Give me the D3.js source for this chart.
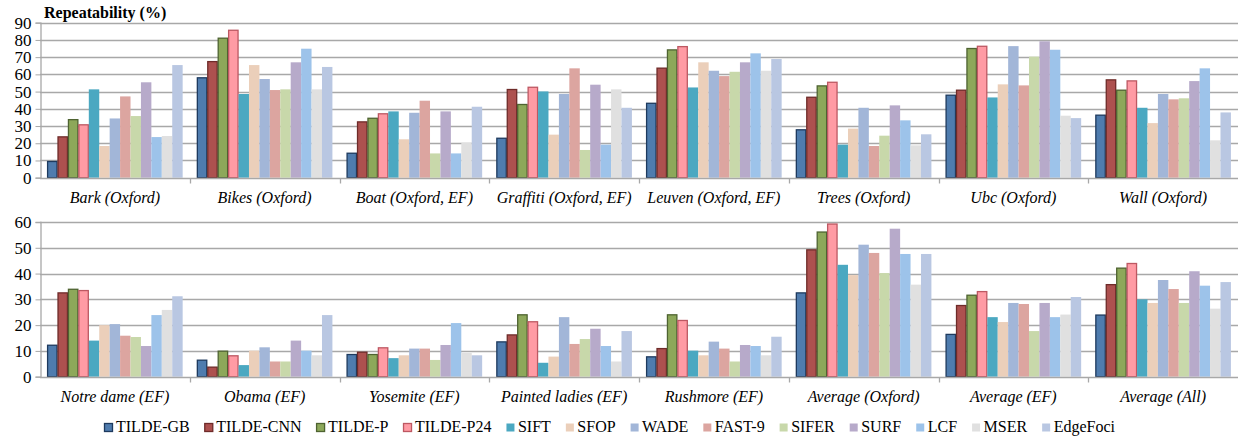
<!DOCTYPE html>
<html><head><meta charset="utf-8">
<script src="https://cdn.jsdelivr.net/npm/d3@7"></script>
<style>body{margin:0;background:#fff}svg{display:block}
svg text{font-family:"Liberation Serif","Times New Roman","DejaVu Serif",serif;}
</style>
</head><body>
<svg id="c" width="1238" height="437"></svg>
<script>
const series = ["TILDE-GB","TILDE-CNN","TILDE-P","TILDE-P24","SIFT","SFOP","WADE","FAST-9","SIFER","SURF","LCF","MSER","EdgeFoci"];
const colors = ["#4F7CAE","#AD514F","#8DA85A","#FF9BA4","#4BA8C1","#EBCFBA","#A2B6D8","#DCA5A0","#C8D8AA","#B7AACA","#9DC3EA","#E0E0E0","#B9C7E2"];
const strokes = ["#1E3A5E","#6E2B29","#4E6331","#BD5862",null,null,null,null,null,null,null,null,null];

const topCategories = ["Bark (Oxford)","Bikes (Oxford)","Boat (Oxford, EF)","Graffiti (Oxford, EF)","Leuven (Oxford, EF)","Trees (Oxford)","Ubc (Oxford)","Wall (Oxford)"];
const topValues = [
  [9.7,24,34,31,51.3,18.4,34.4,47.2,35.8,55.4,23.6,24.2,65.4],
  [58.3,67.7,81.3,85.9,48.6,65.4,57.3,50.9,51.3,67,74.9,51.3,64.3],
  [14.5,32.7,34.8,37.4,38.5,22.3,37.7,44.7,14.1,38.5,14.1,20.3,41.2],
  [23.2,51.5,42.8,52.8,50.1,25,48.6,63.5,16.1,54,19.2,51.3,40.6],
  [43.5,63.9,74.5,76.4,52.4,67,62.1,59,61.5,67,72.2,62.1,68.9],
  [28.1,47,53.6,55.7,19.2,28.5,40.6,18.4,24.4,42,33.3,18.8,25.2],
  [48.2,51.1,75.3,76.6,46.6,54.2,76.4,53.6,70.3,79.2,74.3,36,34.6],
  [36.6,57.1,51.1,56.5,40.6,31.7,48.6,45.5,46.1,56.1,63.5,21.7,37.9]
];
const topTicks = [0,10,20,30,40,50,60,70,80,90];

const bottomCategories = ["Notre dame (EF)","Obama (EF)","Yosemite (EF)","Painted ladies (EF)","Rushmore (EF)","Average (Oxford)","Average (EF)","Average (All)"];
const bottomValues = [
  [12.4,32.7,34.1,33.6,14,20,20.4,15.9,15.4,11.9,23.9,25.9,31.2],
  [6.6,3.9,10.1,8.3,4.5,10.1,11.4,5.9,5.9,14,10.1,8.3,23.9],
  [8.8,9.7,8.8,11.4,7.2,8.3,10.9,10.9,6.5,12.3,20.8,9.2,8.3],
  [13.7,16.4,24.2,21.5,5.4,7.8,23.1,12.7,14.6,18.6,11.9,5.9,17.7],
  [7.9,11.1,24.2,22,10.1,8.3,13.6,10.9,5.9,12.3,11.9,8.3,15.5],
  [32.7,49.4,56.3,59.4,43.4,39.4,51.2,48,40.2,57.4,47.6,35.7,47.6],
  [16.6,27.8,31.8,33.2,23.1,21.2,28.6,28.2,17.7,28.6,23.1,24.1,30.9],
  [24.1,35.9,42.3,44.1,30,28.6,37.5,34,28.6,40.9,35.3,26.4,36.7]
];
const bottomTicks = [0,10,20,30,40,50,60];

const svg = d3.select("#c");
const gridColor = "#A8A8A8";

function panel(cats, vals, ticks, yTop, yBot, labelY) {
  const x0 = d3.scaleBand().domain(cats).range([40, 1238]).padding(0);
  const x1 = d3.scaleBand().domain(series).range([0, x0.bandwidth()]).paddingInner(0).paddingOuter(0.68);
  const y = d3.scaleLinear().domain([0, d3.max(ticks)]).range([yBot, yTop]);
  const g = svg.append("g");
  g.selectAll("line.grid").data(ticks.slice(1)).join("line")
    .attr("x1", 40).attr("x2", 1238)
    .attr("y1", d => Math.round(y(d)) + 0.5).attr("y2", d => Math.round(y(d)) + 0.5)
    .attr("stroke", gridColor).attr("stroke-width", 1.3);
  const ya = g.append("g").attr("transform", "translate(40.5,0)")
    .call(d3.axisLeft(y).tickValues(ticks).tickSize(5).tickPadding(4));
  ya.attr("font-family", null).attr("font-size", null);
  ya.select(".domain").attr("stroke", gridColor).attr("stroke-width", 1.3);
  ya.selectAll(".tick line").attr("stroke", gridColor);
  ya.selectAll(".tick text").style("font-size", "17px").attr("fill", "#000");
  cats.forEach((c, ci) => {
    const gg = g.append("g").attr("transform", `translate(${x0(c)},0)`);
    gg.selectAll("rect").data(vals[ci].map((v, si) => ({v, si}))).join("rect")
      .attr("x", d => x1(series[d.si]) + (strokes[d.si] ? 0.5 : 0))
      .attr("y", d => y(d.v) + (strokes[d.si] ? 0.5 : 0))
      .attr("width", d => x1.bandwidth() - (strokes[d.si] ? 1 : 0))
      .attr("height", d => y(0) - y(d.v) - (strokes[d.si] ? 0.5 : 0))
      .attr("fill", d => colors[d.si])
      .attr("stroke", d => strokes[d.si] || "none")
      .attr("stroke-width", 1.3);
  });
  const xa = g.append("g").attr("transform", `translate(0,${Math.round(y(0)) + 0.5})`);
  xa.append("line").attr("x1", 40).attr("x2", 1238).attr("stroke", gridColor).attr("stroke-width", 1.3);
  const bounds = cats.map(c => x0(c)).slice(1);
  xa.selectAll("line.tk").data(bounds).join("line")
    .attr("x1", d => Math.round(d) + 0.5).attr("x2", d => Math.round(d) + 0.5)
    .attr("y1", 0).attr("y2", 5).attr("stroke", gridColor).attr("stroke-width", 1.3);
  g.selectAll("text.cat").data(cats).join("text")
    .attr("x", d => x0(d) + x0.bandwidth() / 2).attr("y", labelY)
    .attr("text-anchor", "middle").attr("dominant-baseline", "middle")
    .style("font-style", "italic").style("font-size", "16px")
    .attr("fill", "#000").text(d => d);
}

panel(topCategories, topValues, topTicks, 22.7, 177.7, 199);
panel(bottomCategories, bottomValues, bottomTicks, 222, 376.7, 398);

svg.append("text").attr("x", 44).attr("y", 18)
  .style("font-weight", "bold").style("font-size", "16px").attr("fill", "#000").text("Repeatability (%)");

const leg = svg.append("g");
let lx = 104;
series.forEach((s, i) => {
  const it = leg.append("g").attr("transform", `translate(${lx},0)`);
  it.append("rect").attr("x", 0.5).attr("y", 423.5).attr("width", 8).attr("height", 8)
    .attr("fill", colors[i]).attr("stroke", strokes[i] || "none").attr("stroke-width", 1.3);
  const t = it.append("text").attr("x", 12).attr("y", 428).attr("dominant-baseline", "middle")
    .style("font-size", "16px").attr("fill", "#000").text(s);
  lx += 12 + t.node().getComputedTextLength() + 14.5;
});
</script>
</body></html>
